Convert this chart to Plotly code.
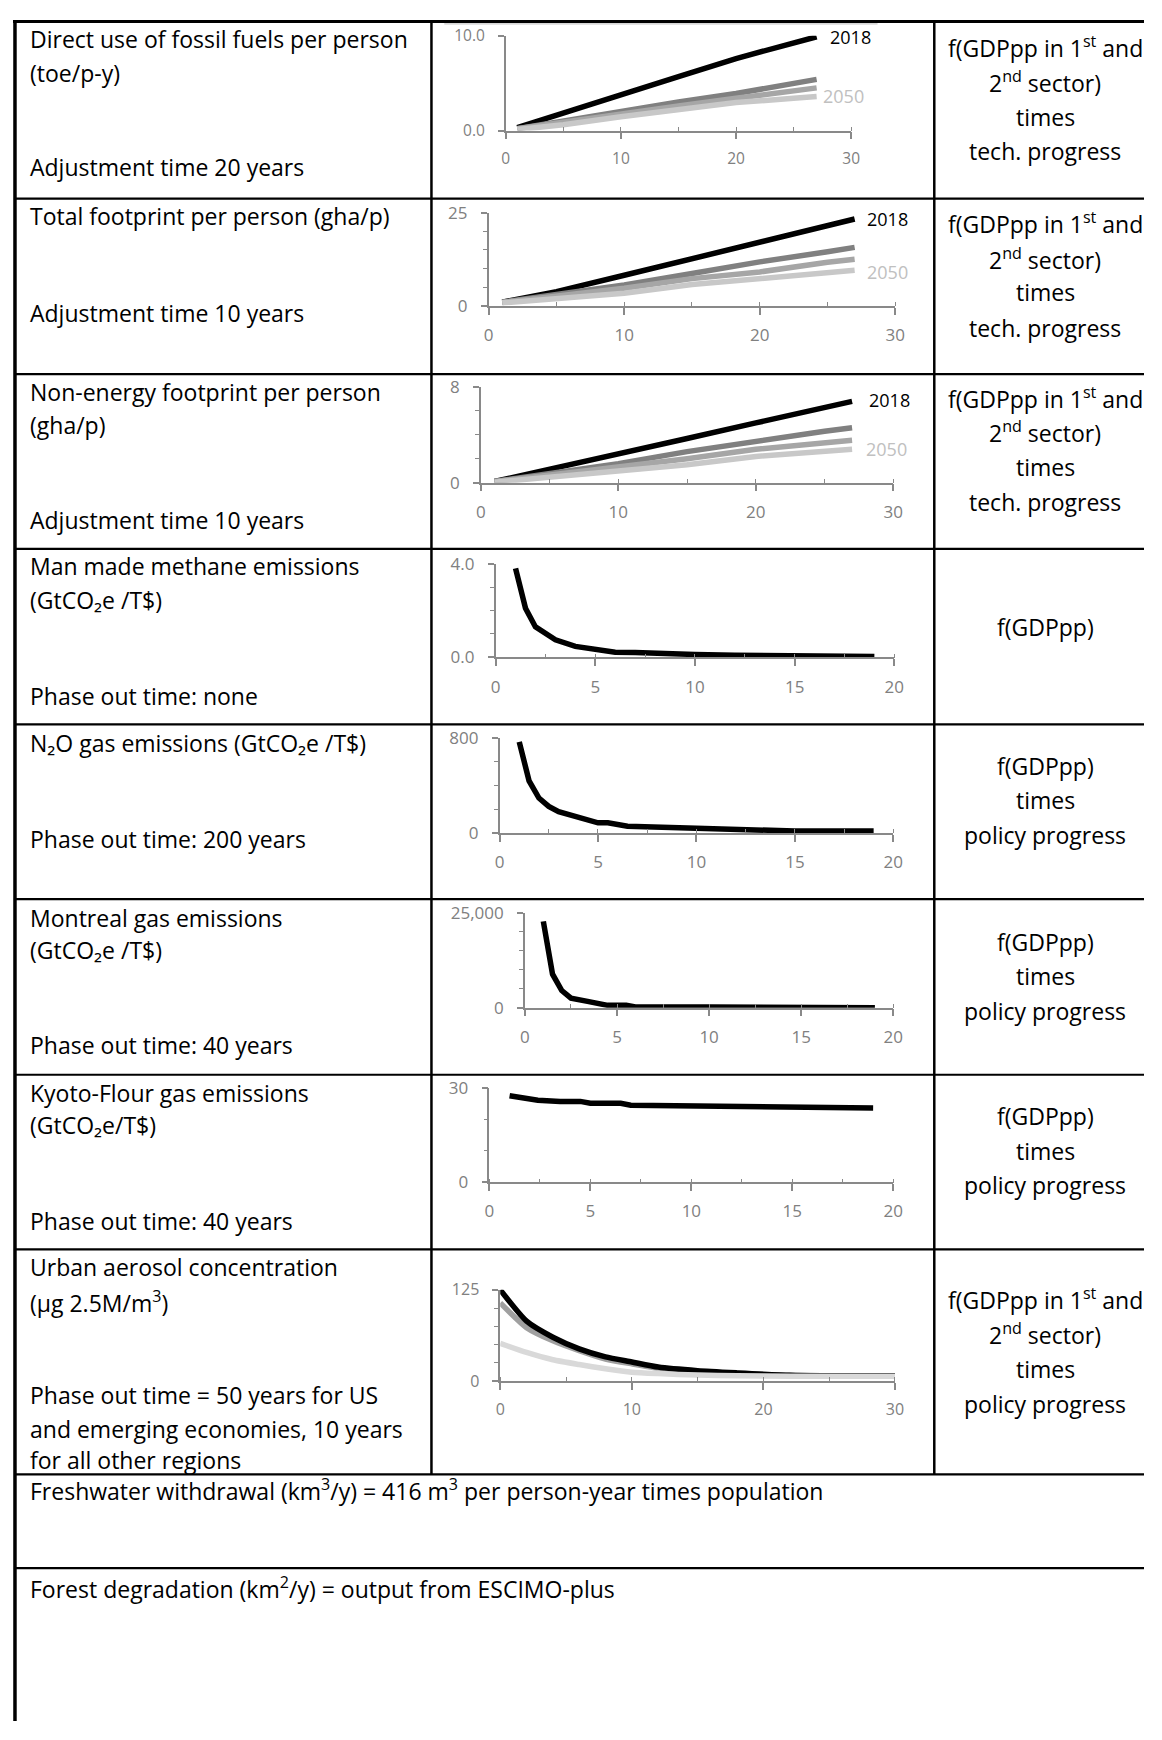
import plotly.graph_objects as go

# página do navegador: 1162x1740; o <body> tem margem de 8px,
# então a figura fica menor e as coordenadas da referência são deslocadas em 8px
OFF = 8
FW = 1146
FH = 1724

# ---------------- dados ----------------
# 1) Direct use of fossil fuels per person (toe/p-y)
fossil_x = [1, 5, 10, 15, 20, 25, 27]
fossil_2018 = [0.3, 1.8, 3.8, 5.7, 7.6, 9.2, 9.9]
fossil_b = [0.2, 1.0, 2.1, 3.0, 3.9, 4.9, 5.4]
fossil_c = [0.2, 0.9, 1.8, 2.6, 3.4, 4.1, 4.5]
fossil_2050 = [0.1, 0.6, 1.45, 2.2, 2.95, 3.4, 3.6]

# 2) Total footprint per person (gha/p)
total_x = [1, 5, 10, 15, 20, 25, 27]
total_2018 = [1.0, 3.8, 8.2, 12.6, 16.9, 21.4, 23.3]
total_b = [1.0, 3.0, 5.6, 8.7, 11.8, 14.5, 15.7]
total_c = [0.9, 2.6, 4.7, 7.3, 9.1, 11.7, 12.5]
total_2050 = [0.8, 1.9, 3.4, 5.7, 7.3, 8.9, 9.55]

# 3) Non-energy footprint per person (gha/p)
nonenergy_x = [1, 5, 10, 15, 20, 25, 27]
nonenergy_2018 = [0.1, 1.1, 2.4, 3.7, 5.0, 6.3, 6.8]
nonenergy_b = [0.1, 0.8, 1.6, 2.6, 3.5, 4.3, 4.6]
nonenergy_c = [0.1, 0.65, 1.3, 2.0, 2.8, 3.3, 3.55]
nonenergy_2050 = [0.05, 0.45, 0.9, 1.5, 2.2, 2.6, 2.8]

# 4) Man made methane emissions
methane_x = [1, 1.5, 2, 3, 4, 5, 6, 7, 8, 10, 12, 15, 19]
methane_y = [3.8, 2.1, 1.3, 0.75, 0.47, 0.32, 0.22, 0.21, 0.17, 0.12, 0.09, 0.05, 0.04]

# 5) N2O gas emissions
n2o_x = [1, 1.5, 2, 2.5, 3, 4, 4.6, 5, 5.5, 6.5, 10, 13, 15, 19]
n2o_y = [770, 440, 295, 225, 180, 128, 108, 86, 86, 58, 40, 22, 17, 17]

# 6) Montreal gas emissions
montreal_x = [1, 1.5, 2, 2.5, 3.4, 4.5, 5.5, 6, 10, 15, 17, 19]
montreal_y = [22700, 8800, 4500, 2500, 1650, 600, 600, 170, 150, 130, 120, 0]

# 7) Kyoto-Flour gas emissions
kyoto_x = [1, 2.4, 3.5, 4.5, 5, 6.5, 7, 10, 11, 13, 15, 19]
kyoto_y = [27.6, 26.2, 25.8, 25.8, 25.2, 25.2, 24.6, 24.4, 24.1, 24.1, 23.7, 23.7]

# 8) Urban aerosol concentration
aerosol_x = [0, 2, 4, 6, 8, 10, 12, 15, 18, 22, 25, 30]
aerosol_black = [125, 82, 60, 44, 33, 26, 19, 14, 11, 7.6, 7, 7]
aerosol_gray = [107, 73, 55, 41.5, 30, 23.4, 17.6, 13, 10, 7.6, 7, 7]
aerosol_light = [51.5, 39, 29, 22.5, 16.7, 12, 10, 8, 7, 6.5, 6.3, 6.3]

# textos da tabela
left_texts = [
    ["Direct use of fossil fuels per person", "(toe/p-y)", "Adjustment time 20 years"],
    ["Total footprint per person (gha/p)", "Adjustment time 10 years"],
    ["Non-energy footprint per person", "(gha/p)", "Adjustment time 10 years"],
    ["Man made methane emissions", "(GtCO₂e /T$)", "Phase out time: none"],
    ["N₂O gas emissions (GtCO₂e /T$)", "Phase out time: 200 years"],
    ["Montreal gas emissions", "(GtCO₂e /T$)", "Phase out time: 40 years"],
    ["Kyoto-Flour gas emissions", "(GtCO₂e/T$)", "Phase out time: 40 years"],
    ["Urban aerosol concentration", "(µg 2.5M/m<sup>3</sup>)", "Phase out time = 50 years for US",
     "and emerging economies, 10 years", "for all other regions"],
]
tech_lines = ["f(GDPpp in 1<sup>st</sup> and", "2<sup>nd</sup> sector)", "times", "tech. progress"]
policy_lines = ["f(GDPpp)", "times", "policy progress"]
sector_policy_lines = ["f(GDPpp in 1<sup>st</sup> and", "2<sup>nd</sup> sector)", "times", "policy progress"]
right_texts = [tech_lines, tech_lines, tech_lines, ["f(GDPpp)"], policy_lines, policy_lines,
               policy_lines, sector_policy_lines]
freshwater_text = "Freshwater withdrawal (km<sup>3</sup>/y) = 416 m<sup>3</sup> per person-year times population"
forest_text = "Forest degradation (km<sup>2</sup>/y) = output from ESCIMO-plus"

# ---------------- posições (px na página de referência) ----------------
left_y = [
    [27, 62, 157],
    [207, 305],
    [385, 418, 515],
    [561, 596, 693],
    [741, 838],
    [918, 951, 1047],
    [1096, 1128, 1225],
    [1272, 1307, 1402, 1436, 1467],
]
right_y = [
    [35, 71, 106, 141],
    [214, 250, 284, 320],
    [391, 426, 461, 497],
    [623],
    [764, 799, 834],
    [942, 977, 1012],
    [1119, 1154, 1189],
    [1304, 1340, 1375, 1411],
]
row_lines = [189, 367, 544, 722, 899, 1077, 1254, 1482, 1577]

BLACK = "#000000"
DARK = "#808080"
MID = "#a6a6a6"
LIGHT = "#c8c8c8"
AXIS = "#898989"
FONT = "Open Sans"
TEXT_SIZE = 23

charts = [
    dict(x=fossil_x, series=[(fossil_2018, BLACK), (fossil_b, DARK), (fossil_c, MID), (fossil_2050, LIGHT)],
         box=(507.3, 857.3, 120, 24), xmax=30, ymax=10, xdt=10, xmin=5, ymin=None, yfmt=".1f", fs=15.5,
         labels=[("2018", 28.0, 9.9, BLACK), ("2050", 27.4, 3.65, "#c0c0c0")]),
    dict(x=total_x, series=[(total_2018, BLACK), (total_b, DARK), (total_c, MID), (total_2050, LIGHT)],
         box=(490, 902, 297.7, 203.3), xmax=30, ymax=25, xdt=10, xmin=5, ymin=5, yfmt="", fs=17,
         labels=[("2018", 27.8, 23.3, BLACK), ("2050", 27.8, 9.2, "#c0c0c0")]),
    dict(x=nonenergy_x, series=[(nonenergy_2018, BLACK), (nonenergy_b, DARK), (nonenergy_c, MID),
                                (nonenergy_2050, LIGHT)],
         box=(482, 900, 477, 380), xmax=30, ymax=8, xdt=10, xmin=5, ymin=2, yfmt="", fs=17,
         labels=[("2018", 28.1, 6.9, BLACK), ("2050", 27.85, 2.8, "#c0c0c0")]),
    dict(x=methane_x, series=[(methane_y, BLACK)],
         box=(497, 901, 654, 559), xmax=20, ymax=4, xdt=5, xmin=2.5, ymin=1, yfmt=".1f", fs=17, labels=[]),
    dict(x=n2o_x, series=[(n2o_y, BLACK)],
         box=(501, 900, 832, 736), xmax=20, ymax=800, xdt=5, xmin=2.5, ymin=200, yfmt="", fs=17, labels=[]),
    dict(x=montreal_x, series=[(montreal_y, BLACK)],
         box=(526.7, 900, 1009, 912.7), xmax=20, ymax=25000, xdt=5, xmin=2.5, ymin=5000, yfmt=",", fs=17,
         labels=[]),
    dict(x=kyoto_x, series=[(kyoto_y, BLACK)],
         box=(490.7, 900, 1186, 1090.7), xmax=20, ymax=30, xdt=5, xmin=2.5, ymin=10, yfmt="", fs=17, labels=[]),
    dict(x=aerosol_x, series=[(aerosol_gray, "#a0a0a0"), (aerosol_black, BLACK), (aerosol_light, "#d9d9d9")],
         box=(501.7, 901.7, 1387.3, 1295), xmax=30, ymax=125, xdt=10, xmin=5, ymin=25, yfmt="", fs=16,
         labels=[], spline=True),
]


def px(x):
    return min(max((x - OFF) / FW, 0), 1)


def py(y):
    return min(max(1 - (y - OFF) / FH, 0), 1)


fig = go.Figure()
layout = {}
annotations = []

# gráficos embutidos
for i, c in enumerate(charts, start=1):
    sfx = "" if i == 1 else str(i)
    xref, yref = "x" + sfx, "y" + sfx
    for vals, col in c["series"]:
        fig.add_trace(go.Scatter(
            x=c["x"], y=vals, mode="lines", xaxis=xref, yaxis=yref,
            line=dict(color=col, width=5.5, shape="spline" if c.get("spline") else "linear", smoothing=0.6),
            hoverinfo="skip", showlegend=False
        ))
    x0, x1, yb, yt = c["box"]
    tickfont = dict(family=FONT, size=c["fs"], color="#808080")
    layout["xaxis" + sfx] = dict(
        domain=[px(x0), px(x1)], range=[0, c["xmax"]], anchor=yref,
        tickvals=list(range(0, c["xmax"] + 1, c["xdt"])),
        showgrid=False, zeroline=False, showline=True, linecolor=AXIS, linewidth=1.5,
        ticks="outside", ticklen=7, tickwidth=1.5, tickcolor=AXIS, tickfont=tickfont,
        ticklabelstandoff=6,
        minor=dict(dtick=c["xmin"], tick0=0, ticks="inside", ticklen=4, tickwidth=1.2, tickcolor=AXIS,
                   showgrid=False),
        fixedrange=True
    )
    ymin = dict(dtick=c["ymin"], tick0=0, ticks="outside", ticklen=4, tickwidth=1.2, tickcolor=AXIS,
                showgrid=False) if c["ymin"] else dict(ticks="")
    layout["yaxis" + sfx] = dict(
        domain=[py(yb), py(yt)], range=[0, c["ymax"]], anchor=xref,
        tickvals=[0, c["ymax"]], tickformat=c["yfmt"],
        showgrid=False, zeroline=False, showline=True, linecolor=AXIS, linewidth=1.5,
        ticks="outside", ticklen=6, tickwidth=1.5, tickcolor=AXIS, tickfont=tickfont,
        ticklabelstandoff=10, minor=ymin, fixedrange=True
    )
    for txt, lx, ly, col in c["labels"]:
        annotations.append(dict(
            text=txt, x=lx, y=ly, xref=xref, yref=yref, xanchor="left", yanchor="middle",
            showarrow=False, font=dict(family=FONT, size=18, color=col)
        ))

# coluna da esquerda
for lines, ys in zip(left_texts, left_y):
    for t, y in zip(lines, ys):
        annotations.append(dict(
            text=t, x=px(23), y=py(y), xref="paper", yref="paper", xanchor="left", yanchor="middle",
            showarrow=False, font=dict(family=FONT, size=TEXT_SIZE, color="black")
        ))

# coluna da direita
for lines, ys in zip(right_texts, right_y):
    for t, y in zip(lines, ys):
        annotations.append(dict(
            text=t, x=px(1054), y=py(y), xref="paper", yref="paper", xanchor="center", yanchor="middle",
            showarrow=False, font=dict(family=FONT, size=TEXT_SIZE, color="black")
        ))

# linhas de largura total
for t, y in [(freshwater_text, 1498), (forest_text, 1597)]:
    annotations.append(dict(
        text=t, x=px(23), y=py(y), xref="paper", yref="paper", xanchor="left", yanchor="middle",
        showarrow=False, font=dict(family=FONT, size=TEXT_SIZE, color="black")
    ))

# bordas da tabela (tudo dentro da figura)
shapes = []


def line(x0, y0, x1, y1, w=2.0, color="black"):
    shapes.append(dict(type="line", xref="paper", yref="paper", x0=px(x0), y0=py(y0), x1=px(x1), y1=py(y1),
                       line=dict(color=color, width=w)))


line(8, 9.5, 1154, 9.5, 3)
line(10, 8, 10, 1732, 3.5)
line(432, 8, 432, 1482, 2.5)
line(941.5, 8, 941.5, 1482, 2.5)
for y in row_lines:
    line(9, y, 1154, y, 2.2)
# contorno claro do gráfico de cima
line(445, 12, 884, 12, 1.2, "#c8c8c8")

fig.update_layout(
    width=FW, height=FH,
    margin=dict(l=0, r=0, t=0, b=0),
    paper_bgcolor="white", plot_bgcolor="white",
    showlegend=False,
    annotations=annotations,
    shapes=shapes,
    **layout
)

fig.write_html("out.html")
